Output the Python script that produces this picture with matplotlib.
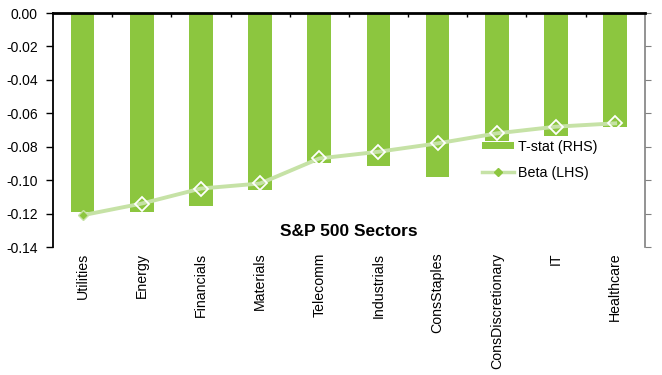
import numpy as np
import matplotlib.pyplot as plt
from matplotlib.lines import Line2D
from matplotlib.patches import Patch

plt.rcParams['font.family'] = ['Liberation Sans', 'DejaVu Sans']

sectors = ['Utilities', 'Energy', 'Financials', 'Materials', 'Telecomm',
           'Industrials', 'ConsStaples', 'ConsDiscretionary', 'IT', 'Healthcare']
tstat = [-5.95, -5.94, -5.77, -5.30, -4.49, -4.58, -4.92, -3.83, -3.68, -3.41]
beta = [-0.121, -0.114, -0.105, -0.102, -0.087, -0.083, -0.078, -0.072, -0.068, -0.066]

bar_green = '#8cc63f'
line_green = '#c6e2a6'

fig = plt.figure(figsize=(6.62, 3.75), dpi=100)
ax = fig.add_axes([0.080, 0.3413, 0.894, 0.624])
axr = ax.twinx()

x = np.arange(len(sectors))

# T-stat bars on the right-hand axis
axr.bar(x, tstat, width=0.4, color=bar_green, zorder=2)
axr.set_ylim(-7, 0)
axr.set_yticks(np.arange(-7, 1, 1))
axr.set_yticklabels([str(v) for v in range(-7, 1)], fontsize=10)
axr.tick_params(axis='y', direction='out', length=4, color='#808080', pad=8)
for side in ['top', 'bottom', 'left']:
    axr.spines[side].set_visible(False)
axr.spines['right'].set_color('#808080')
axr.spines['right'].set_linewidth(1.2)

# Beta line on the left-hand axis, drawn over the bars
ax.set_zorder(axr.get_zorder() + 1)
ax.patch.set_visible(False)
ax.plot(x, beta, color=line_green, lw=2.8, zorder=3)
ax.plot(x[1:], beta[1:], ls='none', marker='D', ms=7, mfc='none',
        mec='white', mew=1.3, zorder=4)
ax.plot(x[:1], beta[:1], ls='none', marker='D', ms=5, mfc=bar_green,
        mec=line_green, mew=1, zorder=4)

ax.set_xlim(-0.5, len(sectors) - 0.5)
ax.set_ylim(-0.14, 0)
yt = np.round(np.arange(-0.14, 0.001, 0.02), 2)
ax.set_yticks(yt)
ax.set_yticklabels([f'{v:.2f}' if v != 0 else '0.00' for v in yt], fontsize=10)
ax.tick_params(axis='y', direction='out', length=5, width=1, color='black', pad=6)

ax.set_xticks(x)
ax.set_xticklabels(sectors, rotation=90, fontsize=10.2, va='top')
ax.tick_params(axis='x', length=0, pad=4)
ax.set_xticks(np.arange(0.5, len(sectors) - 0.5, 1), minor=True)
ax.tick_params(axis='x', which='minor', top=True, bottom=False,
               direction='in', length=3, width=1)

ax.spines['bottom'].set_visible(False)
ax.spines['right'].set_visible(False)
ax.spines['top'].set_linewidth(2)
ax.spines['left'].set_linewidth(1.3)

ax.text(4.5, -0.131, 'S&P 500 Sectors', ha='center', va='center',
        fontsize=12.5, fontweight='bold')

handles = [Patch(facecolor=bar_green, edgecolor='none'),
           Line2D([], [], color=line_green, lw=2.5, marker='D', ms=4,
                  mfc=bar_green, mec=bar_green)]
ax.legend(handles, ['T-stat (RHS)', 'Beta (LHS)'], loc='upper left',
          bbox_to_anchor=(0.716, 0.483), frameon=False, fontsize=10.3,
          handlelength=2.2, handleheight=0.45, handletextpad=0.3,
          labelspacing=0.85, borderaxespad=0)

fig.savefig('out.png', dpi=100)
